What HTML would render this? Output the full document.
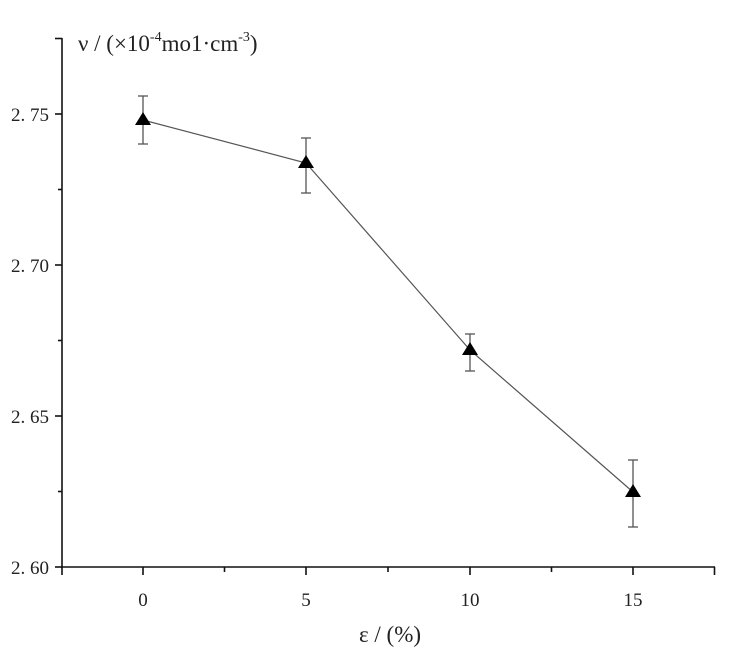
<!DOCTYPE html>
<html><head><meta charset="utf-8"><style>
html,body{margin:0;padding:0;background:#fff;}
svg{display:block;}
text{font-family:"Liberation Serif","Noto Serif CJK SC",serif;fill:#222;}
</style></head><body>
<svg width="733" height="660" viewBox="0 0 733 660" xmlns="http://www.w3.org/2000/svg">
<g stroke="#111" stroke-width="1.6" fill="none">
<line x1="62" y1="38" x2="62" y2="568"/>
<line x1="61" y1="567" x2="715" y2="567"/>
<line x1="55" y1="38.5" x2="62" y2="38.5"/>
<line x1="55" y1="114" x2="62" y2="114"/>
<line x1="58" y1="189.5" x2="62" y2="189.5"/>
<line x1="55" y1="265" x2="62" y2="265"/>
<line x1="58" y1="340.5" x2="62" y2="340.5"/>
<line x1="55" y1="416" x2="62" y2="416"/>
<line x1="58" y1="491.5" x2="62" y2="491.5"/>
<line x1="55" y1="567" x2="62" y2="567"/>
<line x1="62" y1="567" x2="62" y2="575"/>
<line x1="143" y1="567" x2="143" y2="575"/>
<line x1="224.5" y1="567" x2="224.5" y2="572"/>
<line x1="306" y1="567" x2="306" y2="575"/>
<line x1="388" y1="567" x2="388" y2="572"/>
<line x1="470" y1="567" x2="470" y2="575"/>
<line x1="551.5" y1="567" x2="551.5" y2="572"/>
<line x1="633" y1="567" x2="633" y2="575"/>
<line x1="714.5" y1="567" x2="714.5" y2="575"/>
</g>
<g font-size="19" text-anchor="end">
<text x="49" y="121">2. 75</text>
<text x="49" y="272">2. 70</text>
<text x="49" y="423">2. 65</text>
<text x="49" y="574">2. 60</text>
</g>
<g font-size="19" text-anchor="middle">
<text x="143" y="606">0</text>
<text x="306" y="606">5</text>
<text x="470" y="606">10</text>
<text x="633" y="606">15</text>
</g>
<text x="390" y="642" font-size="23" text-anchor="middle">ε / (%)</text>
<text x="78" y="51" font-size="23">ν / (×10<tspan font-size="14" dy="-10">-4</tspan><tspan dy="10">mo1·cm</tspan><tspan font-size="14" dy="-10">-3</tspan><tspan dy="10">)</tspan></text>
<polyline points="143,120 306,163 470,350 633,492" fill="none" stroke="#555" stroke-width="1.2"/>
<g stroke="#555" stroke-width="1.3">
<line x1="143" y1="96" x2="143" y2="144"/><line x1="138" y1="96" x2="148" y2="96"/><line x1="138" y1="144" x2="148" y2="144"/>
<line x1="306" y1="138" x2="306" y2="193"/><line x1="301" y1="138" x2="311" y2="138"/><line x1="301" y1="193" x2="311" y2="193"/>
<line x1="470" y1="334" x2="470" y2="371"/><line x1="465" y1="334" x2="475" y2="334"/><line x1="465" y1="371" x2="475" y2="371"/>
<line x1="633" y1="460" x2="633" y2="527"/><line x1="628" y1="460" x2="638" y2="460"/><line x1="628" y1="527" x2="638" y2="527"/>
</g>
<g fill="#000">
<polygon points="143,112 135,125 151,125"/>
<polygon points="306,155 298,168 314,168"/>
<polygon points="470,342 462,355 478,355"/>
<polygon points="633,484 625,497 641,497"/>
</g>
</svg>
</body></html>
